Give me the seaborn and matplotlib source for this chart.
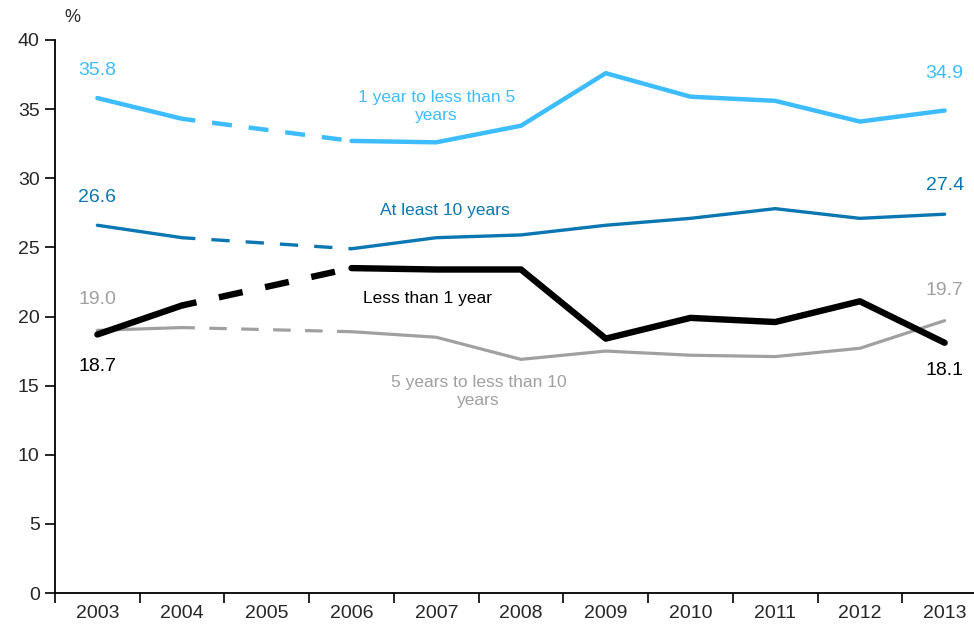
import pandas as pd
import matplotlib
matplotlib.use('Agg')
import matplotlib.pyplot as plt
import seaborn as sns

years = [2003, 2004, 2005, 2006, 2007, 2008, 2009, 2010, 2011, 2012, 2013]
# 2005 not available -> None, drawn as a dashed link between 2004 and 2006
one_to_five = [35.8, 34.3, None, 32.7, 32.6, 33.8, 37.6, 35.9, 35.6, 34.1, 34.9]
ten_plus = [26.6, 25.7, None, 24.9, 25.7, 25.9, 26.6, 27.1, 27.8, 27.1, 27.4]
under_one = [18.7, 20.8, None, 23.5, 23.4, 23.4, 18.4, 19.9, 19.6, 21.1, 18.1]
five_to_ten = [19.0, 19.2, None, 18.9, 18.5, 16.9, 17.5, 17.2, 17.1, 17.7, 19.7]

series = [
    ('1 year to less than 5\nyears', one_to_five, '#3dbdff', 3.2, (4.5, 3.8)),
    ('At least 10 years', ten_plus, '#0a77b2', 2.4, (5.5, 4.8)),
    ('5 years to less than 10\nyears', five_to_ten, '#a0a0a0', 2.3, (5.5, 4.5)),
    ('Less than 1 year', under_one, '#000000', 4.6, (3.8, 3.6)),
]

sns.set_style('white')
plt.rcParams['font.family'] = ['Liberation Sans', 'DejaVu Sans']

fig = plt.figure(figsize=(9.74, 6.28), dpi=100)
ax = fig.add_axes([55 / 974, 35 / 628, 932 / 974, 553 / 628])

for name, vals, color, lw, dash in series:
    df = pd.DataFrame({'year': years, 'value': vals})
    before = df[df['year'] <= 2004]
    after = df[df['year'] >= 2006]
    gap = df[df['year'].isin([2004, 2006])]
    sns.lineplot(data=before, x='year', y='value', color=color, lw=lw, ax=ax)
    sns.lineplot(data=after, x='year', y='value', color=color, lw=lw, ax=ax)
    sns.lineplot(data=gap, x='year', y='value', color=color, lw=lw,
                 ax=ax, linestyle=(1.5, dash))

# line names
ax.text(2007.0, 35.2, '1 year to less than 5\nyears', color='#3dbdff', fontsize=12.5,
        ha='center', va='center', linespacing=1.25)
ax.text(2007.1, 27.7, 'At least 10 years', color='#0a77b2', fontsize=12.5,
        ha='center', va='center')
ax.text(2006.9, 21.3, 'Less than 1 year', color='#000000', fontsize=12.5,
        ha='center', va='center')
ax.text(2007.5, 14.6, '5 years to less than 10\nyears', color='#a0a0a0', fontsize=12.5,
        ha='center', va='center', linespacing=1.25)

# end values
ax.text(2003, 37.8, '35.8', color='#3dbdff', fontsize=14, ha='center', va='center')
ax.text(2013, 37.6, '34.9', color='#3dbdff', fontsize=14, ha='center', va='center')
ax.text(2003, 28.6, '26.6', color='#0a77b2', fontsize=14, ha='center', va='center')
ax.text(2013, 29.5, '27.4', color='#0a77b2', fontsize=14, ha='center', va='center')
ax.text(2003, 21.2, '19.0', color='#a0a0a0', fontsize=14, ha='center', va='center')
ax.text(2013, 21.9, '19.7', color='#a0a0a0', fontsize=14, ha='center', va='center')
ax.text(2003, 16.4, '18.7', color='#000000', fontsize=14, ha='center', va='center')
ax.text(2013, 16.1, '18.1', color='#000000', fontsize=14, ha='center', va='center')

ax.set_xlim(2002.5, 2013.5)
ax.set_ylim(0, 40)
ax.set_yticks(range(0, 41, 5))
ax.set_xticks([y - 0.5 for y in years] + [2013.5])
ax.set_xticklabels([])
ax.set_xticks(years, minor=True)
ax.set_xticklabels([str(y) for y in years], minor=True)
ax.tick_params(axis='x', which='major', bottom=True, direction='out', length=7,
               width=1.2, color='black')
ax.tick_params(axis='x', which='minor', bottom=True, length=0, labelsize=14, pad=9)
ax.tick_params(axis='y', left=True, direction='out', length=7, width=1.2, color='black',
               labelsize=14, pad=4)
ax.set_xlabel('')
ax.set_ylabel('')
for side in ['top', 'right']:
    ax.spines[side].set_visible(False)
for side in ['left', 'bottom']:
    ax.spines[side].set_color('black')
    ax.spines[side].set_linewidth(1.3)
ax.grid(False)

fig.text(72 / 974, 1 - 18 / 628, '%', fontsize=13, ha='center', va='center')

fig.savefig('out.png', dpi=100)
